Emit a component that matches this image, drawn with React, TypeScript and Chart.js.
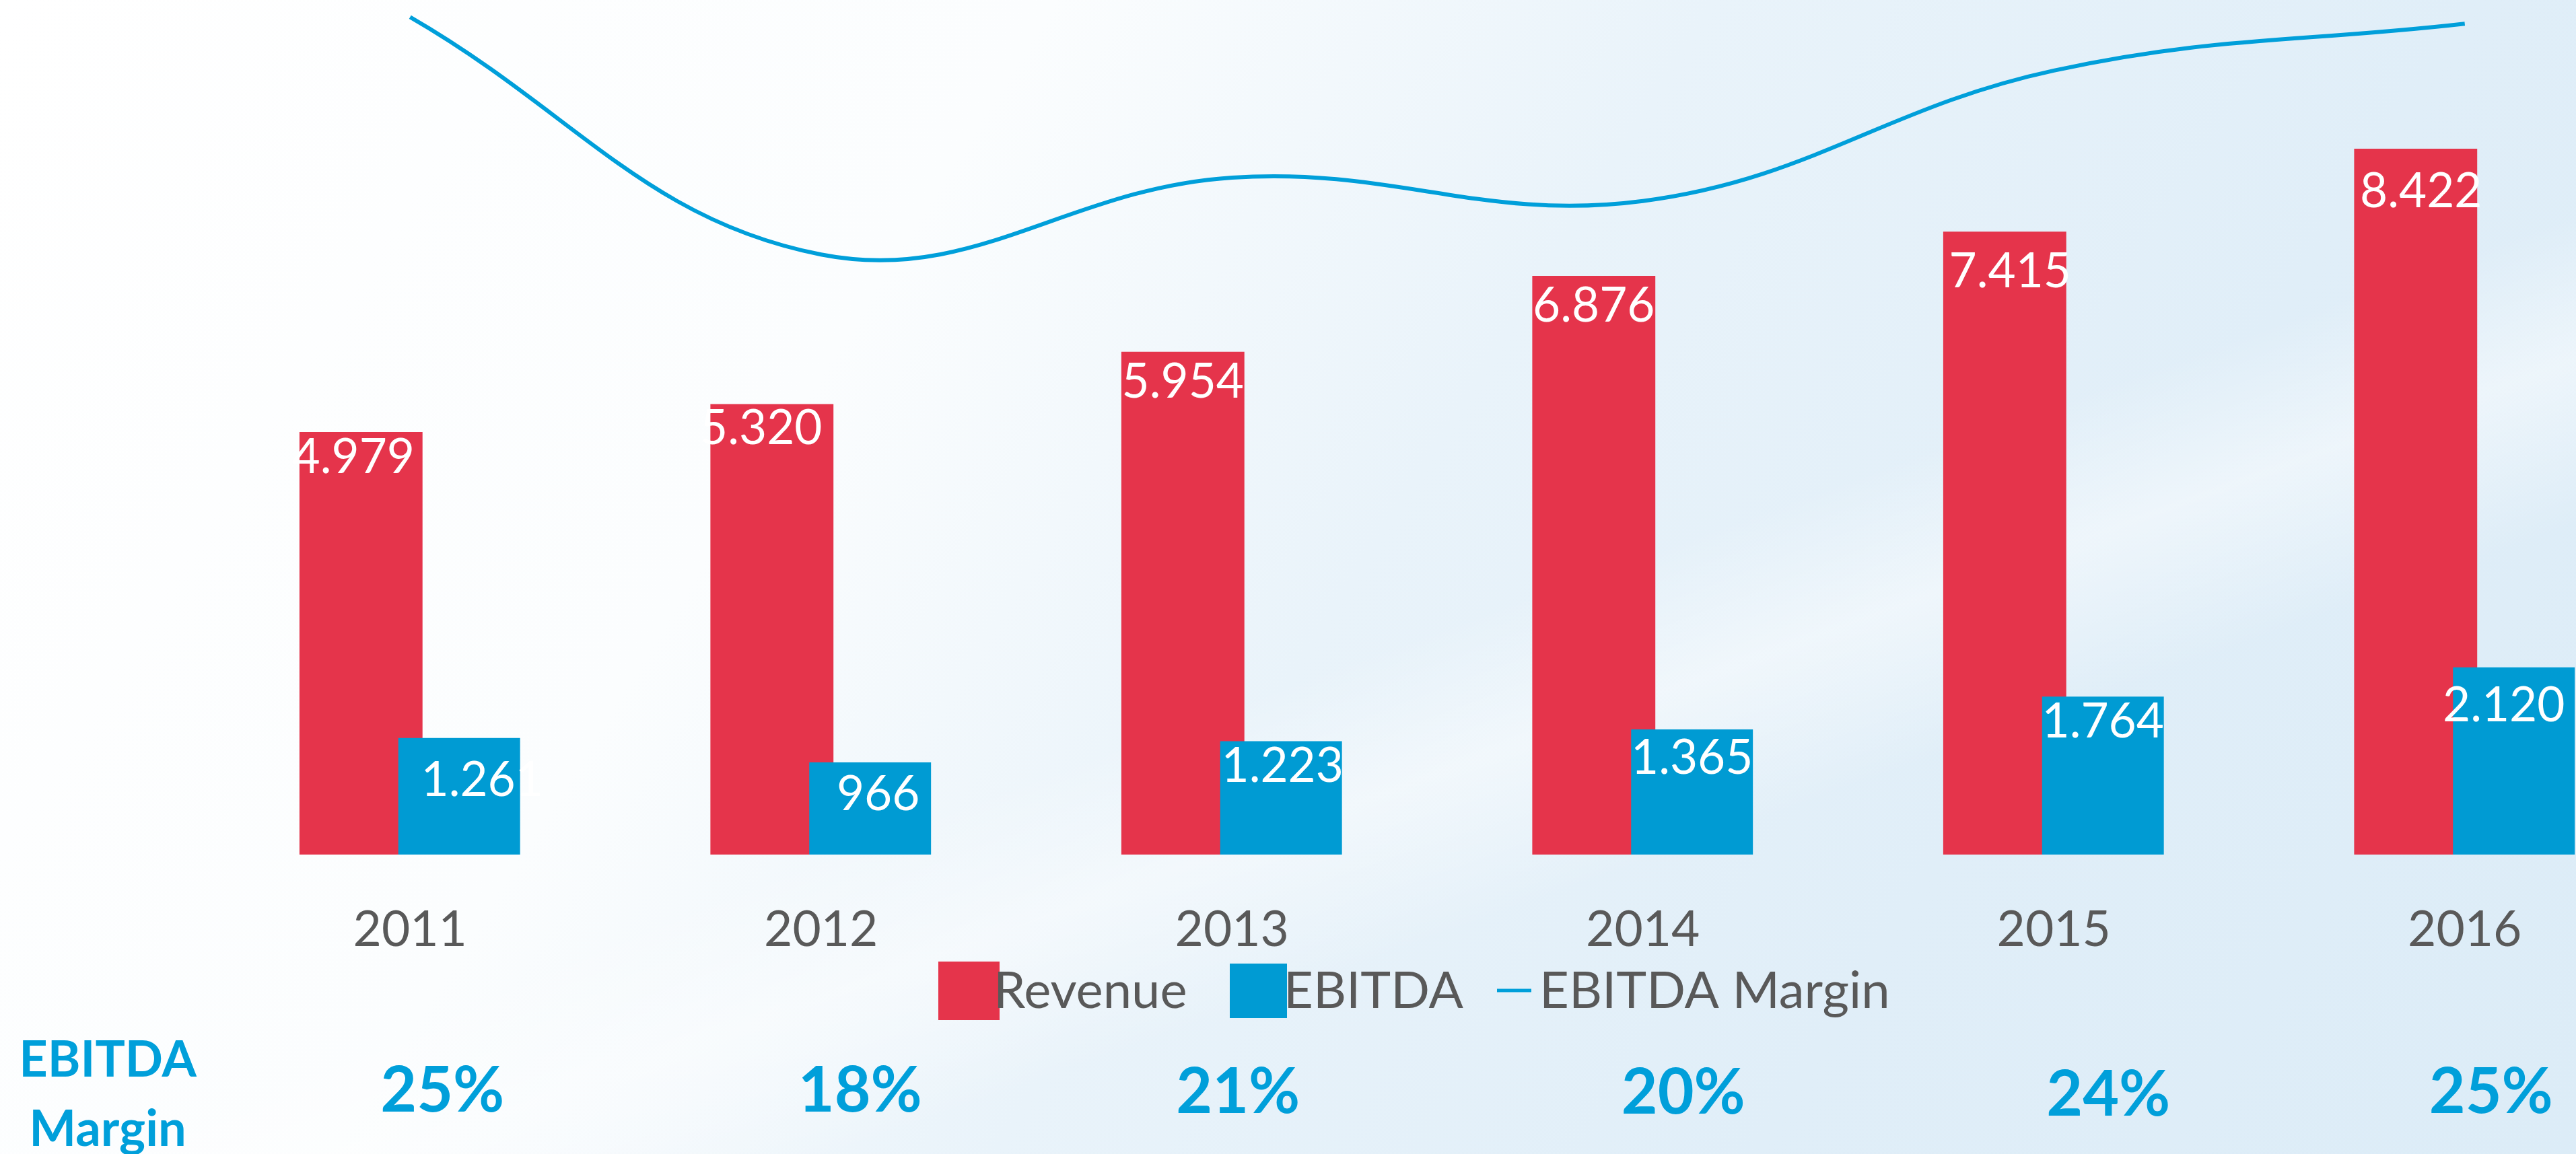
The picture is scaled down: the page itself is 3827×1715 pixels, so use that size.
import React, { useEffect, useRef } from 'react';
import { Chart, registerables } from 'chart.js';

Chart.register(...registerables);

// ---- data ----
const years = ['2011', '2012', '2013', '2014', '2015', '2016'];
const revenue = [4979, 5320, 5954, 6876, 7415, 8422];
const ebitda = [1261, 966, 1223, 1365, 1764, 2120];
const ebitdaMarginPct = [25.3, 18.2, 20.5, 19.8, 23.7, 25.1];
const marginLabels = ['25%', '18%', '21%', '20%', '24%', '25%'];
const legendLabels = ['Revenue', 'EBITDA', 'EBITDA Margin'];
const rowTitle = ['EBITDA', 'Margin'];

// ---- layout (pixel tweaks, not data) ----
const revLabelShift = [[-11, 10], [-16, 9], [0, 17], [0, 17], [8, 32], [8, 36]];
const ebitdaLabelShift = [[34, 35], [12, 20], [2, 10], [0, 15], [0, 10], [-15, 29]];
const marginLabelShift = [48, 58, 9, 60, 81, 39];
const marginLabelBaseline = [1652, 1652, 1654, 1655, 1658, 1654];

const RED = '#E5344B';
const BLUE = '#009BD3';
const LINE = '#009FDA';
const GRAY = '#595959';
const FONT = 'Lato, "Open Sans", sans-serif';

const Y_MIN = -155;
const Y_MAX = 10229;
const Y2_MIN = 0.26;
const Y2_MAX = 25.81;

function fmt(v: number): string {
  return String(v).replace(/\B(?=(\d{3})+(?!\d))/g, '.');
}

const lateEbitda = {
  id: 'lateEbitda',
  beforeDatasetDraw(chart: any, args: any) {
    if (args.index === 1 && !chart.$lateNow) return false;
  },
  afterDatasetsDraw(chart: any) {
    chart.$lateNow = true;
    const meta = chart.getDatasetMeta(1);
    meta.controller.draw();
    chart.$lateNow = false;
  },
};

const textPlugin = {
  id: 'texts',
  afterDatasetsDraw(chart: any) {
    const ctx = chart.ctx as CanvasRenderingContext2D;
    const xs = chart.scales.x;
    ctx.save();

    // bar value labels
    ctx.fillStyle = '#FFFFFF';
    ctx.font = `71px ${FONT}`;
    ctx.textAlign = 'center';
    ctx.textBaseline = 'alphabetic';
    const digitH = 51;
    [0, 1].forEach((di) => {
      const meta = chart.getDatasetMeta(di);
      const vals = di === 0 ? revenue : ebitda;
      const sh = di === 0 ? revLabelShift : ebitdaLabelShift;
      meta.data.forEach((bar: any, i: number) => {
        const p = bar.getProps(['x', 'y'], true);
        ctx.fillText(fmt(vals[i]), p.x + sh[i][0], p.y + sh[i][1] + digitH);
      });
    });

    // category labels
    ctx.fillStyle = GRAY;
    ctx.font = `73px ${FONT}`;
    years.forEach((y, i) => {
      ctx.fillText(y, xs.getPixelForValue(i), 1406);
    });

    // legend
    ctx.fillStyle = RED;
    ctx.fillRect(1394, 1429, 91, 87);
    ctx.fillStyle = BLUE;
    ctx.fillRect(1827, 1432, 85, 81);
    ctx.strokeStyle = LINE;
    ctx.lineWidth = 5;
    ctx.beginPath();
    ctx.moveTo(2224, 1472);
    ctx.lineTo(2275, 1472);
    ctx.stroke();
    ctx.fillStyle = GRAY;
    ctx.font = `76px ${FONT}`;
    ctx.textAlign = 'left';
    ctx.fillText(legendLabels[0], 1476, 1498);
    ctx.fillText(legendLabels[1], 1907, 1498);
    ctx.fillText(legendLabels[2], 2287, 1498);

    // EBITDA margin row
    ctx.fillStyle = LINE;
    ctx.textAlign = 'center';
    ctx.font = `bold 74px ${FONT}`;
    ctx.fillText(rowTitle[0], 160, 1600);
    ctx.fillText(rowTitle[1], 160, 1703);
    ctx.font = `bold 93px ${FONT}`;
    marginLabels.forEach((t, i) => {
      ctx.fillText(t, xs.getPixelForValue(i) + marginLabelShift[i], marginLabelBaseline[i]);
    });

    ctx.restore();
  },
};

export default function App() {
  const ref = useRef<HTMLCanvasElement | null>(null);

  useEffect(() => {
    if (!ref.current) return;
    const chart = new Chart(ref.current, {
      type: 'bar',
      data: {
        labels: years,
        datasets: [
          {
            type: 'bar',
            label: legendLabels[0],
            data: revenue,
            backgroundColor: RED,
            borderWidth: 0,
            base: Y_MIN,
            yAxisID: 'y',
            categoryPercentage: 0.478,
            barPercentage: 1.253,
          } as any,
          {
            type: 'bar',
            label: legendLabels[1],
            data: ebitda,
            backgroundColor: BLUE,
            borderWidth: 0,
            base: Y_MIN,
            yAxisID: 'y',
            categoryPercentage: 0.478,
            barPercentage: 1.24,
          } as any,
          {
            type: 'line',
            label: legendLabels[2],
            data: ebitdaMarginPct,
            borderColor: LINE,
            borderWidth: 6,
            pointRadius: 0,
            tension: 0.4,
            fill: false,
            yAxisID: 'y2',
          } as any,
        ],
      },
      options: {
        responsive: false,
        animation: false,
        layout: { padding: { left: 304, right: 33, top: 0, bottom: 445 } },
        plugins: {
          legend: { display: false },
          tooltip: { enabled: false },
        },
        scales: {
          x: { display: false },
          y: { display: false, min: Y_MIN, max: Y_MAX },
          y2: { display: false, min: Y2_MIN, max: Y2_MAX, position: 'right' },
        },
      },
      plugins: [lateEbitda, textPlugin],
    });
    return () => chart.destroy();
  }, []);

  return (
    <div
      style={{
        position: 'absolute',
        left: 0,
        top: 0,
        width: 3827,
        height: 1715,
        overflow: 'hidden',
        background:
          'linear-gradient(160deg, rgba(255,255,255,0) 55%, rgba(255,255,255,0.45) 62%, rgba(255,255,255,0) 70%), linear-gradient(122deg, #ffffff 0%, #fbfdfe 32%, #e9f3fa 52%, #e0eef8 75%, #dcecf7 100%)',
      }}
    >
      <canvas ref={ref} width={4000} height={1715} style={{ display: 'block' }} />
    </div>
  );
}
